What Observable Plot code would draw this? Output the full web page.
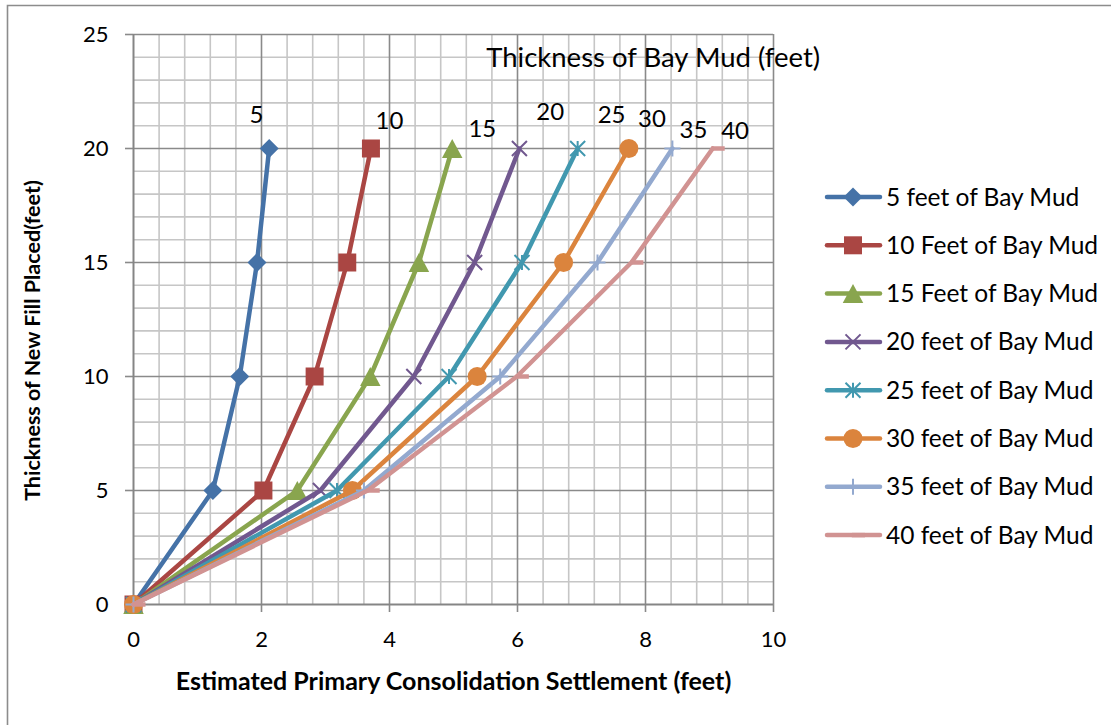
<!DOCTYPE html>
<html>
<head>
<meta charset="utf-8">
<script src="https://cdn.jsdelivr.net/npm/d3@7"></script>
<script src="https://cdn.jsdelivr.net/npm/@observablehq/plot@0.6"></script>
<style>
  body { margin: 0; background: #fff; }
  #chart { position: relative; width: 1111px; height: 725px; }
  #chart svg { display: block; }
</style>
</head>
<body>
<div id="chart"></div>
<script>
// Thickness of new fill placed (feet) — shared by every curve
const fillPlaced = [0, 5, 10, 15, 20];

// Estimated primary consolidation settlement (feet), one list per Bay Mud thickness
const settlement5  = [0, 1.24, 1.66, 1.93, 2.12];
const settlement10 = [0, 2.03, 2.83, 3.34, 3.71];
const settlement15 = [0, 2.56, 3.70, 4.46, 4.98];
const settlement20 = [0, 2.92, 4.38, 5.33, 6.03];
const settlement25 = [0, 3.18, 4.93, 6.07, 6.94];
const settlement30 = [0, 3.42, 5.37, 6.72, 7.74];
const settlement35 = [0, 3.60, 5.73, 7.25, 8.42];
const settlement40 = [0, 3.66, 5.99, 7.78, 9.05];

const seriesNames = [
  "5 feet of Bay Mud", "10 Feet of Bay Mud", "15 Feet of Bay Mud", "20 feet of Bay Mud",
  "25 feet of Bay Mud", "30 feet of Bay Mud", "35 feet of Bay Mud", "40 feet of Bay Mud"
];
const seriesValues = [settlement5, settlement10, settlement15, settlement20,
                      settlement25, settlement30, settlement35, settlement40];

// Axis ticks
const xTicks = [0, 2, 4, 6, 8, 10];
const yTicks = [0, 5, 10, 15, 20, 25];

// Curve labels (Bay Mud thickness) set above the curve tops, in data units
const curveLabels = ["5", "10", "15", "20", "25", "30", "35", "40"];
const curveLabelX = [1.92, 4.00, 5.45, 6.51, 7.47, 8.10, 8.75, 9.40];
const curveLabelY = [21.45, 21.2, 20.85, 21.6, 21.45, 21.3, 20.8, 20.75];
const headingText = "Thickness of Bay Mud (feet)";
const headingX = 8.12;
const headingY = 23.95;

const xTitle = "Estimated Primary Consolidation Settlement (feet)";
const yTitle = "Thickness of New Fill Placed(feet)";

// Marker shapes, drawn around the data point; h is the half-size from the dot radius
const half = s => Math.sqrt(s / Math.PI);
const shapes = {
  diamond: { draw(c, s) { const h = half(s); c.moveTo(0, -h); c.lineTo(h, 0); c.lineTo(0, h); c.lineTo(-h, 0); c.closePath(); } },
  square: { draw(c, s) { const h = half(s); c.rect(-h, -h, 2 * h, 2 * h); } },
  triangle: { draw(c, s) { const h = half(s); c.moveTo(0, -h); c.lineTo(h * 1.08, h); c.lineTo(-h * 1.08, h); c.closePath(); } },
  times: { draw(c, s) { const h = half(s); c.moveTo(-h, -h); c.lineTo(h, h); c.moveTo(h, -h); c.lineTo(-h, h); } },
  star: { draw(c, s) { const h = half(s); c.moveTo(-h, -h); c.lineTo(h, h); c.moveTo(h, -h); c.lineTo(-h, h); c.moveTo(0, -h); c.lineTo(0, h); } },
  circle: { draw(c, s) { const h = half(s); c.moveTo(h, 0); c.arc(0, 0, h, 0, 2 * Math.PI); c.closePath(); } },
  plus: { draw(c, s) { const h = half(s); c.moveTo(0, -h); c.lineTo(0, h); c.moveTo(-h, 0); c.lineTo(h, 0); } },
  dash: { draw(c, s) { const h = half(s); c.moveTo(-0.1 * h, 0); c.lineTo(h, 0); } }
};

// Per-series appearance
const seriesStyle = [
  { color: "#4572A7", shape: "diamond",  r: 9.5, filled: true },
  { color: "#AA4643", shape: "square",   r: 9,   filled: true },
  { color: "#89A54E", shape: "triangle", r: 9.5, filled: true },
  { color: "#71588F", shape: "times",    r: 7.5, filled: false, sw: 2 },
  { color: "#4198AF", shape: "star",     r: 7.5, filled: false, sw: 2 },
  { color: "#DB843D", shape: "circle",   r: 9.5, filled: true },
  { color: "#93A9CF", shape: "plus",     r: 8,   filled: false, sw: 2 },
  { color: "#D19392", shape: "dash",     r: 12,  filled: false, sw: 4.5 }
];

const rows = seriesNames.flatMap((name, i) =>
  fillPlaced.map((f, j) => ({ series: name, index: i, settlement: seriesValues[i][j], fill: f }))
);

const font = "Lato, 'Open Sans', sans-serif";
const majorGrid = "#8a8a8a";
const minorGrid = "#c6c6c6";

const minorX = d3.range(26).filter(i => i % 5 !== 0).map(i => i * 0.4);
const minorY = d3.range(26).filter(i => i % 5 !== 0);

const seriesMarks = seriesNames.flatMap((name, i) => {
  const st = seriesStyle[i];
  const data = rows.filter(d => d.index === i);
  return [
    Plot.line(data, { x: "settlement", y: "fill", stroke: st.color, strokeWidth: 4.5, strokeLinejoin: "round", strokeLinecap: "round" }),
    Plot.dot(data, {
      x: "settlement", y: "fill", r: st.r, symbol: shapes[st.shape],
      fill: st.filled ? st.color : "none",
      stroke: st.filled ? "none" : st.color,
      strokeWidth: st.sw || 0
    })
  ];
});

const chart = Plot.plot({
  width: 1111,
  height: 725,
  marginLeft: 133,
  marginRight: 338,
  marginTop: 34,
  marginBottom: 121,
  x: { domain: [0, 10] },
  y: { domain: [0, 25] },
  style: { fontFamily: font, background: "#fff", color: "#000", overflow: "visible" },
  marks: [
    Plot.ruleX(minorX, { stroke: minorGrid, strokeWidth: 1.6 }),
    Plot.ruleY(minorY, { stroke: minorGrid, strokeWidth: 1.6 }),
    Plot.ruleX(xTicks.slice(1), { stroke: majorGrid, strokeWidth: 1.6 }),
    Plot.ruleY(yTicks.slice(1), { stroke: majorGrid, strokeWidth: 1.6 }),
    Plot.axisX({ ticks: xTicks, tickSize: 8, tickPadding: 19, fontSize: 22, label: null, stroke: majorGrid, strokeWidth: 1.6, color: "#000" }),
    Plot.axisY({ ticks: yTicks, tickSize: 8, tickPadding: 17, fontSize: 22, label: null, stroke: majorGrid, strokeWidth: 1.6, color: "#000" }),
    Plot.ruleX([0], { stroke: "#858585", strokeWidth: 2 }),
    Plot.ruleY([0], { stroke: "#858585", strokeWidth: 2 }),
    ...seriesMarks,
    Plot.text(curveLabels, { x: (d, i) => curveLabelX[i], y: (d, i) => curveLabelY[i], text: d => d, fontSize: 24, lineAnchor: "middle", fill: "#000" }),
    Plot.text([headingText], { x: () => headingX, y: () => headingY, text: d => d, fontSize: 27.5, lineAnchor: "middle", fill: "#000" }),
    Plot.text([xTitle], { frameAnchor: "bottom", dy: 77, text: d => d, fontSize: 25, fontWeight: "bold", lineAnchor: "middle", textAnchor: "middle", fill: "#000" }),
    Plot.text([yTitle], { frameAnchor: "left", rotate: -90, dx: -100, dy: 21, text: d => d, fontSize: 21.5, fontWeight: "bold", lineAnchor: "middle", textAnchor: "middle", fill: "#000" })
  ]
});

document.getElementById("chart").appendChild(chart);

// Outer chart border and legend, drawn into the same SVG
const svg = d3.select(chart);
svg.append("path")
  .attr("d", "M7.5,725V5.5H1111")
  .attr("fill", "none")
  .attr("stroke", "#8c8c8c")
  .attr("stroke-width", 1.6);

const legend = svg.append("g")
  .attr("font-family", font)
  .attr("font-size", 24.5)
  .attr("text-anchor", "start");
seriesNames.forEach((name, i) => {
  const st = seriesStyle[i];
  const y = 197 + i * 48.3;
  const g = legend.append("g").attr("transform", `translate(0,${y})`);
  g.append("line")
    .attr("x1", 827).attr("x2", 880).attr("y1", 0).attr("y2", 0)
    .attr("stroke", st.color).attr("stroke-width", 4.5).attr("stroke-linecap", "round");
  const p = d3.path();
  shapes[st.shape].draw(p, st.r * st.r * Math.PI);
  g.append("path")
    .attr("transform", "translate(853,0)")
    .attr("d", p.toString())
    .attr("fill", st.filled ? st.color : "none")
    .attr("stroke", st.filled ? "none" : st.color)
    .attr("stroke-width", st.sw || 0);
  g.append("text")
    .attr("x", 886).attr("y", 0).attr("dy", "0.35em")
    .attr("fill", "#000")
    .text(name);
});
</script>
</body>
</html>
